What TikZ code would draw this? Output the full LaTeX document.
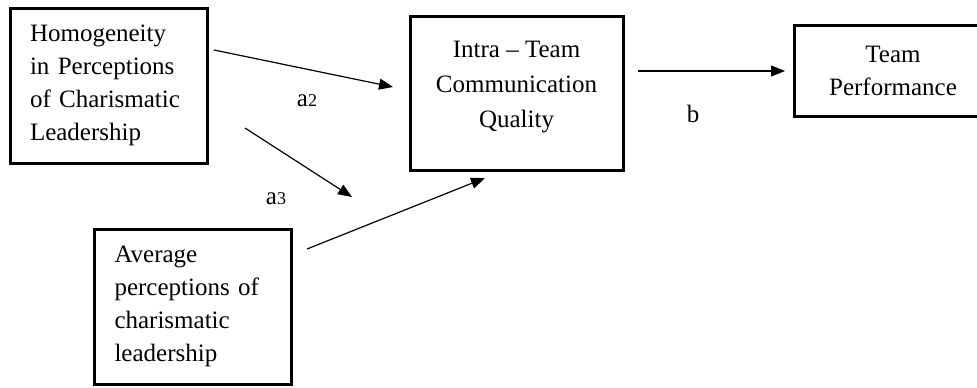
\documentclass[tikz,border=0pt]{standalone}
\usepackage{fontspec}
\setmainfont{Liberation Serif}
\usetikzlibrary{arrows.meta,positioning,calc}
\tikzset{
  varbox/.style={draw=black, line width=1.5pt, fill=white, inner xsep=10pt,
                 font=\fontsize{12.5}{16.5}\selectfont},
  leftbox/.style={varbox, align=left, text width=78.5pt,
                  minimum width=98.5pt, minimum height=77.5pt},
  midbox/.style={varbox, align=center},
  effarr/.style={-{Triangle[length=7pt,width=5.5pt]}, line width=0.6pt},
  coef/.style={font=\fontsize{12.5}{15}\selectfont, inner sep=0pt}}
\newcommand{\sm}[1]{{\fontsize{9}{9}\selectfont #1}}

\begin{document}
\begin{tikzpicture}[x=0.5pt, y=-0.5pt]
    \useasboundingbox (0,0) rectangle (977,387);
    \clip (0,0) rectangle (977,387);
    \node[leftbox] (hom) at (108.5,85.5)
      {Homogeneity\\ in Perceptions\\ of Charismatic\\ Leadership};
    \node[leftbox] (avg) at (193,306.5)
      {Average\\ perceptions of\\ charismatic\\ leadership};
    \node[midbox, font=\fontsize{12.5}{17.5}\selectfont,
          minimum width=106.5pt, minimum height=77pt] (comm) at (516.5,93)
      {Intra -- Team\\ Communication\\ Quality\rule[-9pt]{0pt}{9pt}};
    \node[midbox, minimum width=99pt, minimum height=45.5pt] (perf) at (893,70.5)
      {Team\\ Performance};
    % arrows float between the boxes
    \coordinate (a2from) at (214,50);
    \coordinate (a2to) at (393,87);
    \coordinate (a3from) at (245,128);
    \coordinate (a3to) at (352,197);
    \coordinate (avgfrom) at (307,249);
    \coordinate (avgto) at (485,178);
    \coordinate (bfrom) at (638,71);
    \coordinate (bto) at (785,71);
    \draw[effarr] (a2from) -- (a2to);
    \draw[effarr] (a3from) -- (a3to);
    \draw[effarr] (avgfrom) -- (avgto);
    \draw[effarr] (bfrom) -- (bto);
    % path labels
    \node[coef] (a2lab) at (307,101) {a\sm{2}};
    \node[coef] (a3lab) at (276,199) {a\sm{3}};
    \node[coef] (blab) at (693,114) {b};
  \end{tikzpicture}
\end{document}
